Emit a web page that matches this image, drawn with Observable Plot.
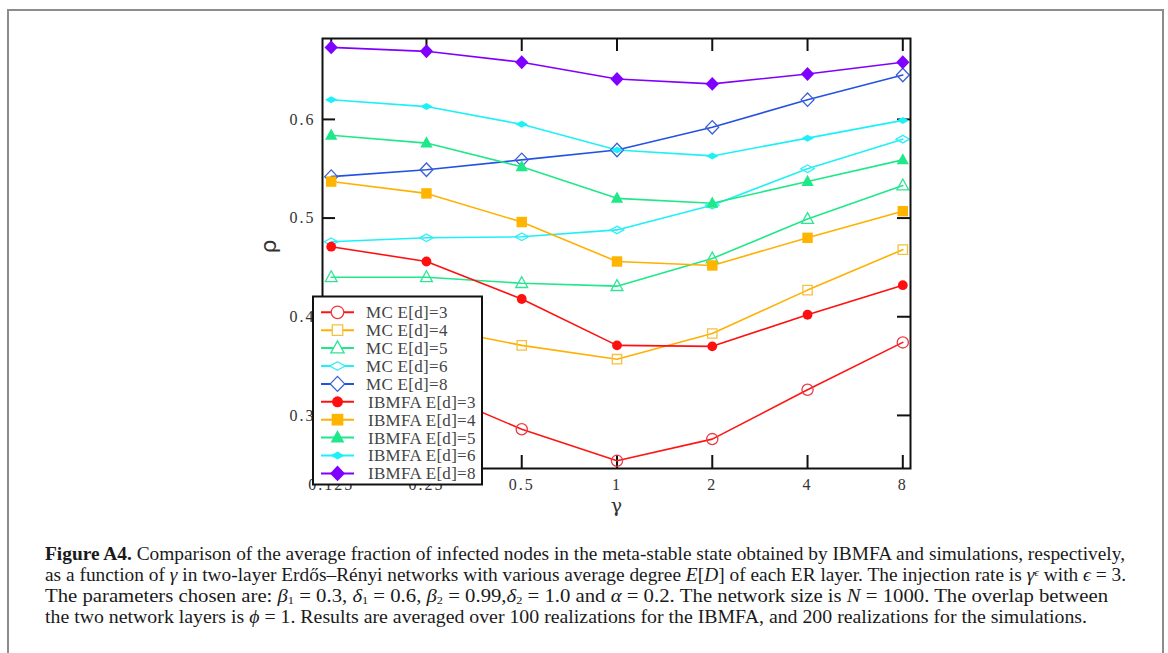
<!DOCTYPE html>
<html><head><meta charset="utf-8">
<script src="https://cdn.jsdelivr.net/npm/d3@7"></script>
<script src="https://cdn.jsdelivr.net/npm/@observablehq/plot@0.6"></script>
<style>
body{margin:0;background:#fff;}
#page{position:relative;width:1168px;height:653px;overflow:hidden;background:#fff}
#border{position:absolute;left:7px;top:9px;width:1153px;height:700px;border:2px solid #8c8c8c;border-bottom:none;}
#chart{position:absolute;left:0;top:0}
#caption{position:absolute;left:45px;top:544px;font-family:"Liberation Serif",serif;font-size:18.5px;color:#1a1a1a;line-height:21px}
#caption .ln{white-space:nowrap;transform-origin:0 0;width:max-content;height:21px}
#caption sub,#caption sup{font-size:11px;line-height:0;vertical-align:baseline;position:relative}
#caption sub{top:0.2em}
#caption sup{top:-0.5em}
</style></head>
<body>
<div id="page">
<div id="border"></div>
<div id="chart"></div>
<div id="caption">
<div class="ln"><b>Figure A4.</b> Comparison of the average fraction of infected nodes in the meta-stable state obtained by IBMFA and simulations, respectively,</div>
<div class="ln">as a function of <i>γ</i> in two-layer Erdős–Rényi networks with various average degree <i>E</i>[<i>D</i>] of each ER layer. The injection rate is <i>γ</i><sup><i>ϵ</i></sup> with <i>ϵ</i> = 3.</div>
<div class="ln">The parameters chosen are: <i>β</i><sub>1</sub> = 0.3, <i>δ</i><sub>1</sub> = 0.6, <i>β</i><sub>2</sub> = 0.99,<i>δ</i><sub>2</sub> = 1.0 and <i>α</i> = 0.2. The network size is <i>N</i> = 1000. The overlap between</div>
<div class="ln">the two network layers is <i>ϕ</i> = 1. Results are averaged over 100 realizations for the IBMFA, and 200 realizations for the simulations.</div>
</div>
</div>
<script>
// ---- data ----
const gammas = [0.125, 0.25, 0.5, 1, 2, 4, 8];
const yTicks = [0.3, 0.4, 0.5, 0.6];
const mc3 = [0.340, 0.327, 0.286, 0.254, 0.276, 0.326, 0.374];
const mc4 = [0.395, 0.390, 0.371, 0.357, 0.383, 0.427, 0.468];
const mc5 = [0.440, 0.440, 0.434, 0.431, 0.459, 0.499, 0.533];
const mc6 = [0.476, 0.480, 0.481, 0.488, 0.513, 0.550, 0.580];
const mc8 = [0.542, 0.549, 0.559, 0.569, 0.592, 0.620, 0.645];
const ib3 = [0.471, 0.456, 0.418, 0.371, 0.370, 0.402, 0.432];
const ib4 = [0.537, 0.525, 0.496, 0.456, 0.452, 0.480, 0.507];
const ib5 = [0.584, 0.576, 0.552, 0.520, 0.515, 0.537, 0.559];
const ib6 = [0.620, 0.613, 0.595, 0.569, 0.563, 0.581, 0.599];
const ib8 = [0.673, 0.669, 0.658, 0.641, 0.636, 0.646, 0.658];
const seriesLabels = ["MC E[d]=3","MC E[d]=4","MC E[d]=5","MC E[d]=6","MC E[d]=8",
  "IBMFA E[d]=3","IBMFA E[d]=4","IBMFA E[d]=5","IBMFA E[d]=6","IBMFA E[d]=8"];
const seriesValues = [mc3, mc4, mc5, mc6, mc8, ib3, ib4, ib5, ib6, ib8];

// ---- styles ----
const colors = ["#ff1414","#ffb000","#1ee88a","#1ef0f8","#2452e0",
                "#ff1010","#ffb000","#1ee88a","#1ef0f8","#8000ff"];
const markerColors = ["#ec3a44","#f5c040","#2ee596","#30eef6","#3a5fd8",
                "#ff1010","#ffb400","#1ee88a","#1ef0f8","#7f00ff"];
const diamondBig = {draw(c, s){const r=Math.sqrt(s/Math.PI), w=r*1.15, h=r*1.2; c.moveTo(0,-h); c.lineTo(w,0); c.lineTo(0,h); c.lineTo(-w,0); c.closePath();}};
const diamondFlat = {draw(c, s){const r=Math.sqrt(s/Math.PI), w=r*1.25, h=r*0.7; c.moveTo(0,-h); c.lineTo(w,0); c.lineTo(0,h); c.lineTo(-w,0); c.closePath();}};
const triUp = {draw(c, s){const r=Math.sqrt(s/Math.PI); c.moveTo(0,-r*1.2); c.lineTo(r*1.1,r*0.8); c.lineTo(-r*1.1,r*0.8); c.closePath();}};
const circ = {draw(c, s){const r=Math.sqrt(s/Math.PI); c.moveTo(r,0); c.arc(0,0,r,0,2*Math.PI);}};
const sq = {draw(c, s){const r=Math.sqrt(s/Math.PI)*0.9; c.rect(-r,-r,2*r,2*r);}};
const symbols = [circ, sq, triUp, diamondFlat, diamondBig, circ, sq, triUp, diamondFlat, diamondBig];
const radii = [5.6, 5.2, 5.4, 5.4, 5.6, 4.9, 5.8, 5.6, 5.0, 5.8];
const filled = [false,false,false,false,false,true,true,true,true,true];

const rows = seriesValues.map((vals, i) => vals.map((v, j) => ({series: i, gamma: gammas[j], rho: v})));

const W = 1168, H = 530;
const mL = 322, mR = 258, mT = 38, mB = 62;
const fw = W - mL - mR, fh = H - mT - mB, tk = 13;

const marks = [];
rows.forEach((r, i) => marks.push(Plot.line(r, {x: "gamma", y: "rho", stroke: colors[i], strokeWidth: 1.6})));
rows.forEach((r, i) => marks.push(Plot.dot(r, {x: "gamma", y: "rho", r: radii[i], symbol: symbols[i],
  fill: filled[i] ? markerColors[i] : "none", stroke: filled[i] ? "none" : markerColors[i], strokeWidth: 1.3})));

const plot = Plot.plot({
  width: W, height: H, marginLeft: mL, marginRight: mR, marginTop: mT, marginBottom: mB,
  style: {fontFamily: "'Liberation Serif', serif", fontSize: "16px", color: "#333", background: "transparent", overflow: "visible"},
  x: {type: "log", base: 2, domain: [0.125 * Math.pow(2, -8.7/95.3), 8 * Math.pow(2, 7.7/95.3)]},
  y: {domain: [0.2462, 0.682]},
  marks: [
    Plot.axisX({ticks: gammas, tickSize: 0, tickPadding: 10, tickFormat: d => String(d), label: null, fontSize: 16, fill: "#333"}),
    Plot.axisY({ticks: yTicks, tickSize: 0, tickPadding: 7, tickFormat: d3.format(".1f"), label: null, fontSize: 16, fill: "#333"}),
    Plot.ruleX(gammas, {x: d => d, insetTop: fh - tk, stroke: "#111", strokeWidth: 2}),
    Plot.ruleX(gammas, {x: d => d, insetBottom: fh - tk, stroke: "#111", strokeWidth: 2}),
    Plot.ruleY(yTicks, {y: d => d, insetRight: fw - tk, stroke: "#111", strokeWidth: 2}),
    Plot.ruleY(yTicks, {y: d => d, insetLeft: fw - tk, stroke: "#111", strokeWidth: 2}),
    ...marks,
    Plot.frame({stroke: "#111", strokeWidth: 2}),
    Plot.text(["γ"], {frameAnchor: "bottom", dy: 43, fontSize: 19, fill: "#333", fontFamily: "'DejaVu Serif', serif"}),
    Plot.text(["ρ"], {frameAnchor: "left", dx: -54, rotate: -90, fontSize: 22, fill: "#333", fontFamily: "'DejaVu Sans', sans-serif"})
  ]
});
d3.select(plot).selectAll("g[aria-label='x-axis tick label'] text, g[aria-label='y-axis tick label'] text").style("letter-spacing", "2px");
document.getElementById("chart").appendChild(plot);

// legend
const svg = d3.select(plot);
const lg = svg.append("g").attr("aria-label", "legend").attr("text-anchor", "start");
lg.append("rect").attr("x", 313).attr("y", 296.5).attr("width", 169).attr("height", 188)
  .attr("fill", "white").attr("stroke", "#111").attr("stroke-width", 2);
seriesLabels.forEach((lab, i) => {
  const y = 312.3 + i * 17.9;
  lg.append("line").attr("x1", 321).attr("x2", 354).attr("y1", y).attr("y2", y)
    .attr("stroke", colors[i]).attr("stroke-width", 2);
  lg.append("path").attr("d", d3.symbol().type(symbols[i]).size(Math.PI * Math.pow(radii[i] * 1.12, 2))())
    .attr("transform", `translate(337.5,${y})`)
    .attr("fill", filled[i] ? markerColors[i] : "white")
    .attr("stroke", filled[i] ? "none" : markerColors[i]).attr("stroke-width", 1.3);
  lg.append("text").attr("x", i < 5 ? 366 : 368).attr("y", y).attr("dy", "0.35em")
    .attr("text-anchor", "start")
    .attr("font-size", 17).attr("fill", "#444").style("letter-spacing", "0.3px").text(lab);
});

// fit caption lines to the reference widths
const targets = [1080, 1081, 1063, 1042];
document.querySelectorAll("#caption .ln").forEach((el, i) => {
  const w = el.getBoundingClientRect().width;
  el.style.transform = `scaleX(${targets[i] / w})`;
});
</script>
</body></html>
